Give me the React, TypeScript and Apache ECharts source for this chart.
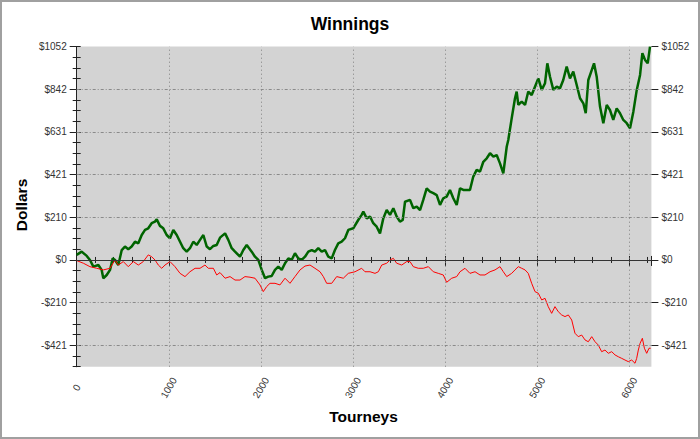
import React, { useEffect, useRef } from 'react';
import * as echarts from 'echarts';

const greenX = [0, 54, 109, 144, 181, 235, 271, 289, 326, 362, 391, 416, 452, 489, 524, 560, 597, 633, 669, 706, 742, 777, 814, 850, 869, 904, 940, 977, 1013, 1049, 1086, 1122, 1157, 1194, 1230, 1266, 1303, 1339, 1375, 1412, 1447, 1484, 1520, 1556, 1611, 1646, 1683, 1719, 1773, 1809, 1846, 1900, 1936, 1972, 2009, 2045, 2080, 2117, 2153, 2189, 2226, 2262, 2298, 2334, 2370, 2406, 2443, 2479, 2515, 2552, 2587, 2623, 2660, 2696, 2732, 2769, 2804, 2840, 2877, 2913, 2949, 3003, 3057, 3094, 3112, 3149, 3185, 3220, 3257, 3293, 3329, 3366, 3402, 3438, 3474, 3510, 3540, 3565, 3619, 3655, 3692, 3728, 3763, 3800, 3836, 3872, 3909, 3945, 3980, 4017, 4053, 4089, 4126, 4162, 4198, 4234, 4270, 4306, 4343, 4379, 4415, 4452, 4488, 4524, 4560, 4596, 4632, 4669, 4686, 4723, 4759, 4777, 4795, 4832, 4868, 4903, 4940, 4976, 5012, 5049, 5085, 5110, 5139, 5175, 5212, 5248, 5283, 5320, 5356, 5392, 5429, 5465, 5501, 5527, 5555, 5592, 5617, 5646, 5682, 5718, 5755, 5790, 5826, 5863, 5899, 5935, 5972, 6008, 6044, 6081, 6117, 6142, 6171, 6200, 6225];
const greenY = [25, 41, 20, 0, -33, -25, -49, -90, -74, -49, 8, 0, -25, 49, 66, 53, 66, 90, 82, 123, 148, 156, 181, 189, 200, 168, 156, 123, 107, 148, 123, 90, 58, 41, 58, 90, 74, 99, 123, 66, 53, 69, 74, 110, 131, 99, 58, 41, 16, 49, 74, 41, 16, 0, -49, -90, -82, -79, -49, -33, -49, -16, 8, 0, 33, 8, 0, 16, 41, 49, 41, 58, 41, 49, 16, 8, 49, 82, 90, 107, 148, 156, 197, 222, 238, 205, 214, 181, 164, 131, 205, 246, 222, 255, 214, 189, 197, 287, 296, 255, 263, 246, 296, 353, 337, 329, 320, 271, 304, 312, 345, 304, 271, 353, 345, 345, 345, 411, 444, 435, 484, 501, 526, 509, 517, 476, 427, 558, 591, 698, 797, 830, 764, 780, 764, 830, 813, 854, 895, 838, 871, 969, 903, 838, 854, 846, 887, 953, 895, 928, 862, 797, 772, 723, 887, 936, 969, 903, 756, 674, 764, 739, 690, 747, 723, 690, 674, 649, 731, 838, 912, 1019, 986, 969, 1051];

const redX = [0, 72, 144, 217, 289, 362, 416, 452, 506, 560, 615, 669, 723, 777, 814, 850, 886, 923, 959, 1013, 1067, 1122, 1176, 1230, 1285, 1339, 1393, 1429, 1484, 1520, 1556, 1611, 1665, 1719, 1773, 1827, 1882, 1936, 1990, 2026, 2063, 2099, 2153, 2207, 2262, 2316, 2370, 2425, 2479, 2533, 2587, 2642, 2678, 2714, 2769, 2823, 2895, 2949, 3022, 3094, 3130, 3185, 3239, 3275, 3312, 3366, 3402, 3438, 3474, 3529, 3583, 3619, 3655, 3709, 3763, 3818, 3872, 3926, 3980, 4017, 4072, 4126, 4162, 4216, 4270, 4325, 4379, 4433, 4488, 4542, 4596, 4632, 4669, 4723, 4759, 4795, 4832, 4868, 4903, 4940, 4976, 5012, 5049, 5085, 5120, 5157, 5193, 5229, 5266, 5302, 5338, 5375, 5410, 5446, 5483, 5519, 5555, 5592, 5628, 5663, 5700, 5736, 5772, 5809, 5845, 5881, 5918, 5953, 5989, 6026, 6062, 6080, 6098, 6117, 6142, 6164, 6189, 6214, 6232];
const redY = [-3, -16, -33, -41, -49, -41, 0, -25, -8, -33, -8, -25, -8, 25, 16, 0, -25, -41, -25, -8, -33, -66, -82, -58, -41, -41, -25, -41, -41, -74, -62, -90, -82, -99, -99, -82, -85, -90, -123, -156, -131, -115, -115, -123, -90, -115, -82, -49, -30, -25, -41, -58, -82, -115, -115, -82, -90, -66, -58, -41, -58, -58, -66, -58, -25, -16, 0, 8, -16, -25, -8, -8, -33, -41, -41, -33, -58, -66, -74, -110, -90, -82, -58, -41, -66, -58, -74, -74, -58, -49, -33, -58, -82, -66, -49, -33, -41, -49, -66, -115, -156, -164, -197, -189, -230, -263, -230, -255, -271, -279, -271, -296, -361, -378, -370, -394, -403, -378, -403, -419, -452, -444, -460, -452, -468, -477, -485, -493, -501, -493, -509, -485, -444, -411, -386, -435, -460, -435, -435];

const yMajor = [-420.8, -210.4, 0, 210.4, 420.8, 631.2, 841.6, 1052];
const yGrid = [-420.8, -210.4, 210.4, 420.8, 631.2, 841.6];
const xGrid = [1000, 2000, 3000, 4000, 5000, 6000];
const Y_MIN = -526;
const Y_MAX = 1052;
const X_MAX = 6240;

const FONT = 'Liberation Sans, Arial, sans-serif';

const fmtY = (v: number) => {
  const k = v / 210.4;
  if (Math.abs(k - Math.round(k)) > 1e-6) return '';
  const r = Math.round(v);
  return r < 0 ? '-$' + Math.abs(r) : '$' + r;
};

export default function App() {
  const ref = useRef<HTMLDivElement>(null);
  useEffect(() => {
    const chart = echarts.init(ref.current!, null, { renderer: 'svg' });
    const minorY = (pos: string) => ({
      type: 'value',
      position: pos,
      min: Y_MIN,
      max: Y_MAX,
      interval: 52.6,
      axisLine: { show: true, lineStyle: { color: '#222', width: 1 } },
      axisTick: { show: true, length: 4, lineStyle: { color: '#222' } },
      axisLabel: { formatter: fmtY, margin: 10, fontSize: 10, color: '#333', fontFamily: FONT },
      splitLine: { show: false },
    });
    const majorY = (pos: string) => ({
      type: 'value',
      position: pos,
      min: Y_MIN,
      max: Y_MAX,
      axisLine: { show: false },
      axisTick: { show: true, length: 7, customValues: yMajor, lineStyle: { color: '#222' } },
      axisLabel: { show: false },
      splitLine: { show: false },
    });
    chart.setOption({
      animation: false,
      backgroundColor: '#fff',
      title: {
        text: 'Winnings',
        left: 'center',
        top: 10,
        textStyle: { fontSize: 17.5, fontWeight: 'bold', color: '#000', fontFamily: FONT },
      },
      grid: {
        left: 76.7,
        right: 48.6,
        top: 46.5,
        bottom: 72.3,
        show: true,
        backgroundColor: '#d3d3d3',
        borderWidth: 0,
      },
      xAxis: [
        {
          type: 'value',
          position: 'bottom',
          min: 0,
          max: X_MAX,
          interval: 1000,
          axisLine: { show: true, lineStyle: { color: '#222' } },
          axisTick: { show: true, length: 6, lineStyle: { color: '#222' } },
          minorTick: { show: true, splitNumber: 5, length: 3, lineStyle: { color: '#222' } },
          axisLabel: {
            rotate: 60,
            align: 'center',
            verticalAlign: 'middle',
            margin: 21,
            fontSize: 10,
            color: '#333',
            fontFamily: FONT,
            formatter: (v: number) => (v % 1000 === 0 ? String(v) : ''),
          },
          splitLine: { show: false },
        },
        {
          type: 'value',
          position: 'top',
          min: 0,
          max: X_MAX,
          interval: 1000,
          axisLine: { show: true, lineStyle: { color: '#222' } },
          axisTick: { show: true, length: 4, lineStyle: { color: '#222' } },
          minorTick: { show: true, splitNumber: 5, length: 3, lineStyle: { color: '#222' } },
          axisLabel: { show: false },
          splitLine: { show: false },
        },
      ],
      yAxis: [minorY('left'), minorY('right'), majorY('left'), majorY('right')],
      graphic: [
        {
          type: 'rect',
          shape: { x: 1, y: 1, width: 698, height: 437 },
          style: { fill: 'none', stroke: '#a0a0a0', lineWidth: 2 },
          silent: true,
        },
        {
          type: 'text',
          x: 21,
          y: 205,
          rotation: Math.PI / 2,
          style: {
            text: 'Dollars',
            fontSize: 15.5,
            fontWeight: 'bold',
            fontFamily: FONT,
            fill: '#000',
            textAlign: 'center',
            textVerticalAlign: 'middle',
          },
        },
        {
          type: 'text',
          x: 363.5,
          y: 416,
          style: {
            text: 'Tourneys',
            fontSize: 15.5,
            fontWeight: 'bold',
            fontFamily: FONT,
            fill: '#000',
            textAlign: 'center',
            textVerticalAlign: 'middle',
          },
        },
      ],
      series: [
        {
          name: 'grid',
          type: 'line',
          data: [],
          z: 1,
          silent: true,
          markLine: {
            silent: true,
            symbol: 'none',
            label: { show: false },
            emphasis: { disabled: true },
            data: [
              ...yGrid.map((v) => ({ yAxis: v, lineStyle: { type: [3, 2, 1, 2], color: '#8a8a8a', width: 1 } })),
              ...xGrid.map((v) => ({ xAxis: v, lineStyle: { type: [1, 3], color: '#808080', width: 1 } })),
              { yAxis: 0, lineStyle: { type: 'solid', color: '#333', width: 1 } },
            ],
          },
        },
        {
          name: 'Winnings',
          type: 'line',
          z: 3,
          showSymbol: false,
          data: greenX.map((x, i) => [x, greenY[i]]),
          lineStyle: { color: '#006400', width: 2.5 },
          itemStyle: { color: '#006400' },
        },
        {
          name: 'Other',
          type: 'line',
          z: 4,
          showSymbol: false,
          data: redX.map((x, i) => [x, redY[i]]),
          lineStyle: { color: '#ff0000', width: 1 },
          itemStyle: { color: '#ff0000' },
        },
      ],
    });
    return () => chart.dispose();
  }, []);
  return <div ref={ref} style={{ position: 'fixed', left: 0, top: 0, width: 700, height: 439 }} />;
}
